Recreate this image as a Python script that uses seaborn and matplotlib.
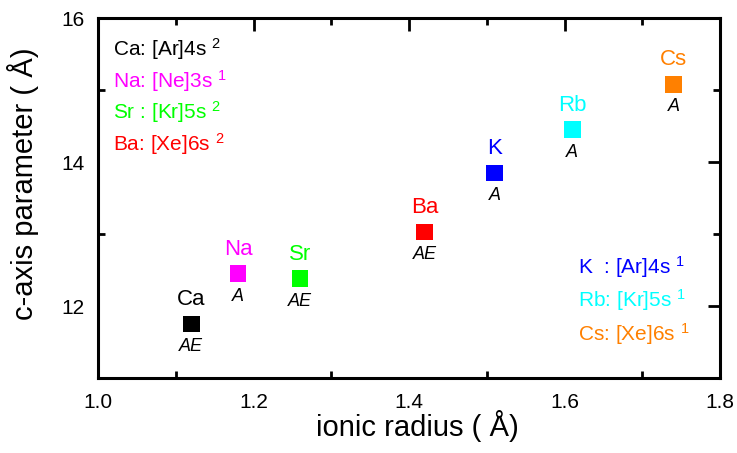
import matplotlib
matplotlib.use("Agg")
import matplotlib.pyplot as plt
import seaborn as sns
import pandas as pd
from matplotlib.ticker import MultipleLocator

sns.set_theme(style="white")
plt.rcParams['font.family'] = ['Liberation Sans', 'DejaVu Sans']
plt.rcParams['mathtext.fontset'] = 'custom'
plt.rcParams['mathtext.rm'] = 'Liberation Sans'
plt.rcParams['mathtext.it'] = 'Liberation Sans:italic'
for k in ['text.color', 'axes.labelcolor', 'xtick.color', 'ytick.color', 'axes.edgecolor']:
    plt.rcParams[k] = 'black'

elements = ["Ca", "Na", "Sr", "Ba", "K", "Rb", "Cs"]
radius = [1.12, 1.18, 1.26, 1.42, 1.51, 1.61, 1.74]
c_param = [11.75, 12.45, 12.38, 13.03, 13.85, 14.45, 15.08]
types = ["AE", "A", "AE", "AE", "A", "A", "A"]
colors = ["#000000", "#FF00FF", "#00FF00", "#FF0000", "#0000FF", "#00FFFF", "#FF8000"]
configs_left = ["Ca: [Ar]4s $^{2}$", "Na: [Ne]3s $^{1}$", "Sr : [Kr]5s $^{2}$", "Ba: [Xe]6s $^{2}$"]
configs_left_colors = ["#000000", "#FF00FF", "#00FF00", "#FF0000"]
configs_right = ["K  : [Ar]4s $^{1}$", "Rb: [Kr]5s $^{1}$", "Cs: [Xe]6s $^{1}$"]
configs_right_colors = ["#0000FF", "#00FFFF", "#FF8000"]

df = pd.DataFrame({"element": elements, "radius": radius, "c": c_param})

fig = plt.figure(figsize=(7.37, 4.53), dpi=100)
ax = fig.add_axes([0.133, 0.1656, 0.844, 0.7944])

sns.scatterplot(data=df, x="radius", y="c", hue="element", palette=dict(zip(elements, colors)),
                marker="s", s=140, linewidth=0, legend=False, ax=ax, zorder=3)

for e, x, y, t, col in zip(elements, radius, c_param, types, colors):
    ax.annotate(e, (x, y), xytext=(0, 10), textcoords="offset points", ha="center", va="bottom",
                color=col, fontsize=16)
    ax.annotate(t, (x, y), xytext=(0, -10), textcoords="offset points", ha="center", va="top",
                color="black", fontsize=13, style="italic")

for i, (txt, col) in enumerate(zip(configs_left, configs_left_colors)):
    ax.text(0.024, 0.914 - i * 0.0878, txt, transform=ax.transAxes, color=col, fontsize=15,
            va="center", ha="left")
for i, (txt, col) in enumerate(zip(configs_right, configs_right_colors)):
    ax.text(0.772, 0.308 - i * 0.0925, txt, transform=ax.transAxes, color=col, fontsize=15,
            va="center", ha="left")

ax.set_xlim(1.0, 1.8)
ax.set_ylim(11, 16)
ax.xaxis.set_minor_locator(MultipleLocator(0.1))
ax.yaxis.set_minor_locator(MultipleLocator(1))
ax.set_xticks([1.0, 1.2, 1.4, 1.6, 1.8])
ax.set_xticklabels(["1.0", "1.2", "1.4", "1.6", "1.8"])
ax.set_yticks([12, 14, 16])
ax.set_yticklabels(["12", "14", "16"])
ax.tick_params(which="both", direction="in", top=True, right=True, width=2, labelsize=15,
               color="black", labelcolor="black")
ax.tick_params(axis="x", which="both", pad=11)
ax.tick_params(axis="y", which="both", pad=10)
ax.tick_params(which="major", length=9)
ax.tick_params(which="minor", length=5, bottom=True, left=True)
for sp in ax.spines.values():
    sp.set_linewidth(2.2)
    sp.set_color("black")

ax.set_xlabel("ionic radius ( Å)", fontsize=21, color="black")
ax.set_ylabel("c-axis parameter ( Å)", fontsize=21, color="black")
ax.xaxis.set_label_coords(0.514, -0.09)
ax.yaxis.set_label_coords(-0.095, 0.54)

fig.savefig("out.png", dpi=100)
